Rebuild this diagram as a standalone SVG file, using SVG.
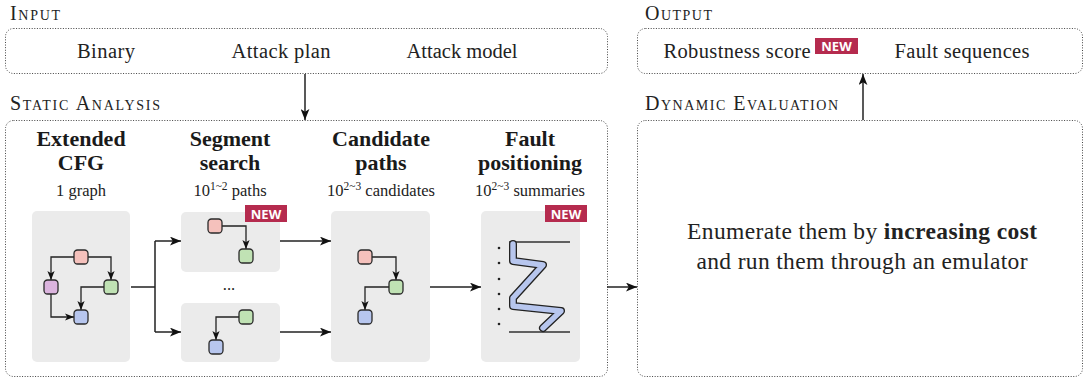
<svg xmlns="http://www.w3.org/2000/svg" width="1086" height="378" viewBox="0 0 1086 378">
<style>
.frame{fill:none;stroke:#444;stroke-width:1;stroke-dasharray:1 1.6}
.hdr{font-family:"Liberation Serif",serif;font-variant:small-caps;font-size:20px;fill:#222}
.t{font-family:"Liberation Serif",serif;font-size:20.5px;fill:#222;text-anchor:middle}
.ttl{font-family:"Liberation Serif",serif;font-size:22px;font-weight:bold;fill:#1a1a1a;text-anchor:middle}
.sub{font-family:"Liberation Serif",serif;font-size:16.5px;fill:#222;text-anchor:middle}
.sup{font-size:11.5px}
.panel{fill:#ebebeb}
.conn{fill:none;stroke:#222;stroke-width:1.5}
.mini{fill:none;stroke:#222;stroke-width:1.3}
.n{stroke:#2a2a2a;stroke-width:1.3}
.pink{fill:#f5c1bc}
.purple{fill:#dbb4de}
.green{fill:#c0e2b4}
.blue{fill:#b7c6ee}
.badge{fill:#b52b4e}
.badgeT{font-family:"Open Sans","Liberation Sans",sans-serif;font-weight:bold;font-size:13px;fill:#fff;text-anchor:middle}
</style>
<defs>
<marker id="ah" viewBox="0 0 10 8" refX="10" refY="4" markerWidth="11" markerHeight="9" markerUnits="userSpaceOnUse" orient="auto"><path d="M0,0 L10,4 L0,8 L2.5,4 z" fill="#111"/></marker>
<marker id="ahs" viewBox="0 0 10 8" refX="10" refY="4" markerWidth="9" markerHeight="8" markerUnits="userSpaceOnUse" orient="auto"><path d="M0,0 L10,4 L0,8 L2.5,4 z" fill="#111"/></marker>
</defs>

<g id="input">
<text class="hdr" x="10" y="20" textLength="50" lengthAdjust="spacing">Input</text>
<rect class="frame" x="5.5" y="28.5" width="602" height="45" rx="8"/>
<text class="t" x="106" y="58" textLength="58" lengthAdjust="spacing">Binary</text>
<text class="t" x="281" y="58" textLength="99" lengthAdjust="spacing">Attack plan</text>
<text class="t" x="462" y="58">Attack model</text>
</g>

<g id="output">
<text class="hdr" x="645" y="20" textLength="67" lengthAdjust="spacing">Output</text>
<rect class="frame" x="637.5" y="28.5" width="445" height="45" rx="8"/>
<text class="t" x="737" y="58" textLength="147" lengthAdjust="spacing">Robustness score</text>
<rect class="badge" x="815" y="38" width="43" height="16"/>
<text class="badgeT" x="836.5" y="51">NEW</text>
<text class="t" x="962" y="58" textLength="135" lengthAdjust="spacing">Fault sequences</text>
</g>

<g id="static">
<text class="hdr" x="10" y="110" textLength="150" lengthAdjust="spacing">Static Analysis</text>
<rect class="frame" x="5.5" y="120.5" width="602" height="256" rx="8"/>
</g>

<g id="dynamic">
<text class="hdr" x="645" y="110" textLength="193" lengthAdjust="spacing">Dynamic Evaluation</text>
<rect class="frame" x="637.5" y="120.5" width="445" height="256" rx="8"/>
<text class="t" x="862" y="239" style="font-size:23.5px" textLength="350" lengthAdjust="spacing">Enumerate them by <tspan font-weight="bold">increasing cost</tspan></text>
<text class="t" x="862" y="269" style="font-size:23.5px" textLength="331" lengthAdjust="spacing">and run them through an emulator</text>
</g>

<g id="cfg">
<text class="ttl" x="81" y="146">Extended</text>
<text class="ttl" x="81" y="170">CFG</text>
<text class="sub" x="81" y="196">1 graph</text>
<rect class="panel" x="32" y="211" width="98" height="151" rx="5"/>
<path class="mini" d="M74,257 H51 V280" marker-end="url(#ahs)"/>
<path class="mini" d="M88,257 H111 V280" marker-end="url(#ahs)"/>
<path class="mini" d="M104,287 H81 V310" marker-end="url(#ahs)"/>
<path class="mini" d="M51,294 V317 H74" marker-end="url(#ahs)"/>
<rect class="n pink" x="74" y="250" width="14" height="14" rx="3.5"/>
<rect class="n purple" x="44" y="280" width="14" height="14" rx="3.5"/>
<rect class="n green" x="104" y="280" width="14" height="14" rx="3.5"/>
<rect class="n blue" x="74" y="310" width="14" height="14" rx="3.5"/>
</g>

<g id="segment">
<text class="ttl" x="230" y="146">Segment</text>
<text class="ttl" x="230" y="170">search</text>
<text class="sub" x="230" y="196">10<tspan class="sup" dy="-6">1~2</tspan><tspan dy="6"> paths</tspan></text>
<rect class="panel" x="181" y="212" width="99" height="60" rx="5"/>
<path class="mini" d="M222,226 H246 V249" marker-end="url(#ahs)"/>
<rect class="n pink" x="208" y="219" width="14" height="14" rx="3.5"/>
<rect class="n green" x="239" y="249" width="14" height="14" rx="3.5"/>
<rect class="badge" x="245" y="205" width="42" height="17"/>
<text class="badgeT" x="266" y="218.5">NEW</text>
<text class="sub" x="229" y="290">...</text>
<rect class="panel" x="181" y="303" width="99" height="59" rx="5"/>
<path class="mini" d="M239,317 H216 V340" marker-end="url(#ahs)"/>
<rect class="n green" x="239" y="310" width="14" height="14" rx="3.5"/>
<rect class="n blue" x="209" y="340" width="14" height="14" rx="3.5"/>
</g>

<g id="candidate">
<text class="ttl" x="381" y="146">Candidate</text>
<text class="ttl" x="381" y="170">paths</text>
<text class="sub" x="381" y="196">10<tspan class="sup" dy="-6">2~3</tspan><tspan dy="6"> candidates</tspan></text>
<rect class="panel" x="331" y="211" width="99" height="151" rx="5"/>
<path class="mini" d="M372,257 H396 V280" marker-end="url(#ahs)"/>
<path class="mini" d="M389,287 H365 V310" marker-end="url(#ahs)"/>
<rect class="n pink" x="358" y="250" width="14" height="14" rx="3.5"/>
<rect class="n green" x="389" y="280" width="14" height="14" rx="3.5"/>
<rect class="n blue" x="358" y="310" width="14" height="14" rx="3.5"/>
</g>

<g id="fault">
<text class="ttl" x="530" y="146">Fault</text>
<text class="ttl" x="530" y="170">positioning</text>
<text class="sub" x="530" y="196">10<tspan class="sup" dy="-6">2~3</tspan><tspan dy="6"> summaries</tspan></text>
<rect class="panel" x="481" y="211" width="99" height="151" rx="5"/>
<path d="M509,242 H570 M509,332 H570" stroke="#333" stroke-width="1.5" fill="none"/>
<path d="M513,244 V261 L543,265 L513,298 V306 L561,311 L543,328" fill="none" stroke="#222" stroke-width="8" stroke-linejoin="round" stroke-linecap="round"/>
<path d="M513,244 V261 L543,265 L513,298 V306 L561,311 L543,328" fill="none" stroke="#b7c6ee" stroke-width="5.4" stroke-linejoin="round" stroke-linecap="round"/>
<g fill="#222">
<circle cx="499" cy="248" r="1.3"/><circle cx="499" cy="263" r="1.3"/><circle cx="499" cy="279" r="1.3"/>
<circle cx="499" cy="294" r="1.3"/><circle cx="499" cy="309" r="1.3"/><circle cx="499" cy="324" r="1.3"/>
</g>
<rect class="badge" x="545" y="205" width="42" height="17"/>
<text class="badgeT" x="566" y="218.5">NEW</text>
</g>

<g id="connectors">
<path class="conn" d="M305,74 V120" marker-end="url(#ah)"/>
<path class="conn" d="M863,120 V74" marker-end="url(#ah)"/>
<path class="conn" d="M131,287 H155 M155,241 V332"/>
<path class="conn" d="M155,241 H181" marker-end="url(#ah)"/>
<path class="conn" d="M155,332 H181" marker-end="url(#ah)"/>
<path class="conn" d="M280,241 H331" marker-end="url(#ah)"/>
<path class="conn" d="M280,332 H331" marker-end="url(#ah)"/>
<path class="conn" d="M430,287 H481" marker-end="url(#ah)"/>
<path class="conn" d="M607,287 H637" marker-end="url(#ah)"/>
</g>
</svg>
